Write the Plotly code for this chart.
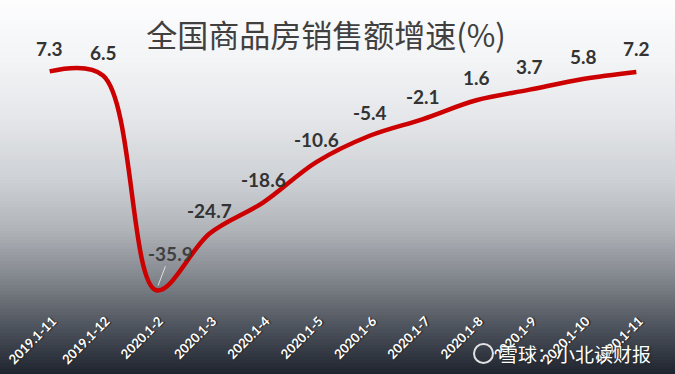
import plotly.graph_objects as go

categories = ["2019.1-11", "2019.1-12", "2020.1-2", "2020.1-3", "2020.1-4", "2020.1-5",
              "2020.1-6", "2020.1-7", "2020.1-8", "2020.1-9", "2020.1-10", "2020.1-11"]
values = [7.3, 6.5, -35.9, -24.7, -18.6, -10.6, -5.4, -2.1, 1.6, 3.7, 5.8, 7.2]
title_text = "全国商品房销售额增速(%)"
watermark_text = "雪球：小北读财报"

W, H = 675, 374
ML, MR, MT, MB = 23, 12, 40, 64
PH = H - MT - MB
PW = W - ML - MR


def py2paper(py):
    return (H - MB - py) / PH


def px2paper(px):
    return (px - ML) / PW


# background gradient stops: (pixel y, rgb)
stops = [(0, (253, 253, 254)), (60, (243, 244, 246)), (120, (228, 230, 233)),
         (180, (205, 208, 212)), (230, (176, 180, 185)), (280, (128, 132, 139)),
         (320, (85, 90, 99)), (374, (30, 36, 47))]


def color_at(y):
    for (y0, c0), (y1, c1) in zip(stops[:-1], stops[1:]):
        if y0 <= y <= y1:
            t = (y - y0) / (y1 - y0)
            return "rgb(%d,%d,%d)" % tuple(round(a + (b - a) * t) for a, b in zip(c0, c1))
    return "rgb(%d,%d,%d)" % stops[-1][1]


shapes = []
step = 3
for y in range(0, H, step):
    shapes.append(dict(type="rect", xref="paper", yref="paper", layer="below",
                       x0=px2paper(-5), x1=px2paper(W + 5),
                       y0=py2paper(y + step + 0.5), y1=py2paper(y),
                       fillcolor=color_at(y + step / 2), line=dict(width=0)))

# watermark logo circle
shapes.append(dict(type="circle", xref="paper", yref="paper", layer="above",
                   x0=px2paper(474), x1=px2paper(493), y0=py2paper(363), y1=py2paper(344),
                   line=dict(color="rgba(255,255,255,0.85)", width=2)))

fig = go.Figure()
fig.add_trace(go.Scatter(
    x=categories, y=values, mode="lines",
    line=dict(color="#cc0000", width=4.5, shape="spline", smoothing=1.0),
    hoverinfo="skip", showlegend=False,
))

annotations = []
for c, v in zip(categories, values):
    txt = "%g" % v
    if v == min(values):
        annotations.append(dict(x=c, y=v, text=txt, showarrow=True, arrowhead=0,
                                arrowwidth=1, arrowcolor="#e0e0e0", ax=14, ay=-37,
                                standoff=5,
                                font=dict(family="Lato", size=19, color="#404040", weight="bold")))
    else:
        annotations.append(dict(x=c, y=v, text=txt, showarrow=False, yshift=23,
                                font=dict(family="Lato", size=19, color="#333333", weight="bold")))

annotations.append(dict(xref="paper", yref="paper", x=px2paper(497), y=py2paper(353),
                        xanchor="left", yanchor="middle", text=watermark_text, showarrow=False,
                        font=dict(family="Noto Sans CJK SC", size=19, color="white",
                                  shadow="1px 1px 2px #222")))

fig.update_layout(
    width=W, height=H,
    margin=dict(l=ML, r=MR, t=MT, b=MB),
    paper_bgcolor="#c0c3c7", plot_bgcolor="rgba(0,0,0,0)",
    title=dict(text=title_text, x=326 / W, y=1 - 36 / H, xanchor="center", yanchor="middle",
               font=dict(family="Noto Sans CJK SC", size=31, color="#404040")),
    xaxis=dict(type="category", range=[-0.5, 11.5], showgrid=False, zeroline=False,
               showline=False, ticks="", tickangle=-45, automargin=False,
               ticklabelstandoff=0, ticklabelshift=3,
               tickfont=dict(family="Lato", size=13, color="white", weight="bold",
                             shadow="1px 1px 1px #222")),
    yaxis=dict(range=[-39.8, 13.5], visible=False, fixedrange=True),
    shapes=shapes, annotations=annotations,
)

fig.write_html("out.html", config={"displayModeBar": False},
               post_script="document.body.style.margin='0';document.body.style.overflow='hidden';")
